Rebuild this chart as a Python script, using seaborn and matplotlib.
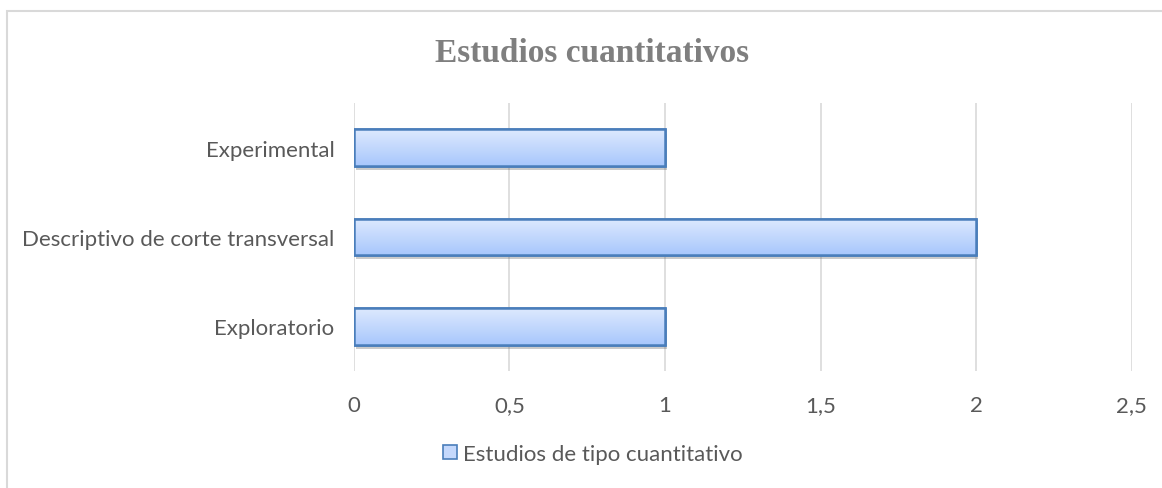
import numpy as np
import pandas as pd
import matplotlib
matplotlib.use("Agg")
import matplotlib.pyplot as plt
import matplotlib.patheffects as pe
from matplotlib.patches import Rectangle, Patch
from matplotlib.colors import LinearSegmentedColormap
import seaborn as sns

categories = ["Experimental", "Descriptivo de corte transversal", "Exploratorio"]
values = [1, 2, 1]
series_name = "Estudios de tipo cuantitativo"
title = "Estudios cuantitativos"
xticks = [0, 0.5, 1, 1.5, 2, 2.5]
xtick_labels = ["0", "0,5", "1", "1,5", "2", "2,5"]

sns.set_theme(style="white")
plt.rcParams['font.family'] = ['Lato', 'DejaVu Sans']

df = pd.DataFrame({"cat": categories, "val": values})

fig = plt.figure(figsize=(11.62, 4.89), dpi=100)
ax = fig.add_axes([354/1162, 1-372/489, (1131.5-354)/1162, (372-104)/489])

sns.barplot(data=df, x="val", y="cat", orient="h", ax=ax, width=0.41,
            color="#c4d8fc", edgecolor="#4a7ebb", linewidth=1.8, zorder=3)

grad = np.linspace(0, 1, 64).reshape(-1, 1)
cmap = LinearSegmentedColormap.from_list("g", ["#dde9fe", "#a8c7fc"])
for p in list(ax.patches):
    x0, y0 = p.get_x(), p.get_y()
    w, h = p.get_width(), p.get_height()
    p.set_path_effects([pe.SimplePatchShadow(offset=(1.5, -3), shadow_rgbFace="#555555", alpha=0.3),
                        pe.Normal()])
    im = ax.imshow(grad, cmap=cmap, aspect="auto", extent=(x0, x0 + w, y0 + h, y0),
                   zorder=3.5, origin="upper")
    im.set_clip_path(p)
    edge = Rectangle((x0, y0), w, h, fill=False, edgecolor="#4a7ebb", linewidth=1.8, zorder=4)
    ax.add_patch(edge)
ax.set_xlim(0, 2.5)
ax.set_ylim(2.5, -0.5)

ax.set_xticks(xticks)
ax.set_xticklabels(xtick_labels)
ax.grid(axis="x", color="#d9d9d9", linewidth=1.2, zorder=0)
ax.set_axisbelow(True)
for s in ax.spines.values():
    s.set_visible(False)
ax.tick_params(axis="both", length=0, labelsize=16, colors="#595959")
ax.tick_params(axis="x", pad=17)
ax.tick_params(axis="y", pad=14)
ax.set_xlabel("")
ax.set_ylabel("")

fig.text(592/1162, 1-53/489, title, ha="center", va="center",
         fontsize=24, fontweight="bold", color="#7f7f7f", family="Liberation Serif")

handle = Patch(facecolor="#c4d8fc", edgecolor="#4a7ebb", linewidth=1.2)
fig.legend([handle], [series_name], loc="center", bbox_to_anchor=(593/1162, 1-455/489),
           frameon=False, fontsize=16, labelcolor="#595959",
           handlelength=0.6, handleheight=0.6, handletextpad=0.3)

fig.add_artist(Rectangle((7/1162, -0.1), 1.2, 1 - 12/489 + 0.1, transform=fig.transFigure,
                         fill=False, edgecolor="#d9d9d9", linewidth=1.5))

fig.savefig("out.png", dpi=100)
